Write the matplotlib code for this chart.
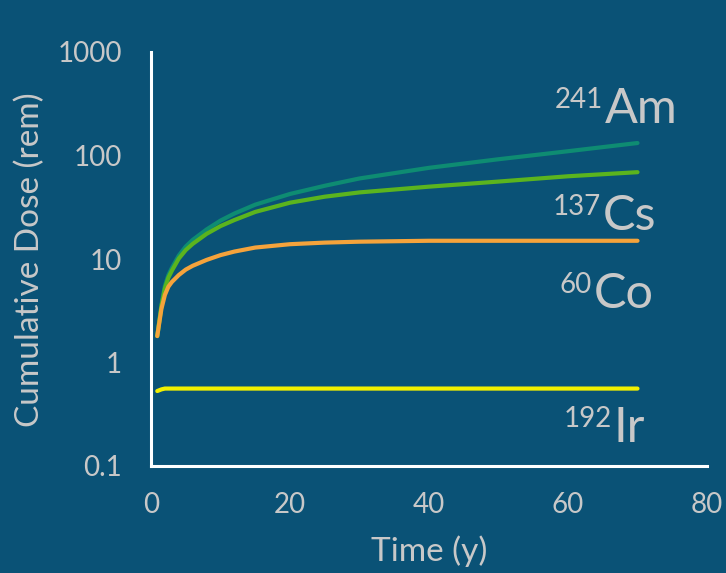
import matplotlib
matplotlib.use("Agg")
import matplotlib.pyplot as plt

# time in years
t = [0.9, 1.5, 2, 2.5, 3, 4, 5, 6, 8, 10, 12, 15, 20, 25, 30, 40, 50, 60, 70]
am241 = [1.8, 3.6, 5.5, 7.0, 8.2, 10.8, 13.2, 15.3, 19.3, 23.5, 27.5, 33.5, 42.5, 51, 60, 76, 92, 110, 132]
cs137 = [1.8, 3.5, 5.2, 6.6, 7.7, 10.1, 12.2, 14.0, 17.5, 20.8, 23.8, 28.5, 35, 40, 44, 50, 56, 63, 69]
co60 = [1.8, 3.3, 4.5, 5.4, 6.0, 7.0, 7.9, 8.6, 9.8, 10.9, 11.8, 12.9, 13.9, 14.4, 14.7, 15, 15, 15, 15]
ir192 = [0.53, 0.55, 0.56, 0.56, 0.56, 0.56, 0.56, 0.56, 0.56, 0.56, 0.56, 0.56, 0.56, 0.56, 0.56,
         0.56, 0.56, 0.56, 0.56]

bg = "#0A5276"
txt = "#C8C8C8"
plt.rcParams['font.family'] = ['Lato', 'DejaVu Sans']

fig = plt.figure(figsize=(7.26, 5.73), dpi=100, facecolor=bg)
ax = fig.add_axes([151/726, 1-466/573, (707-151)/726, (466-52)/573])
ax.set_facecolor(bg)

kw = dict(lw=3, solid_capstyle='round', solid_joinstyle='round')
ax.plot(t, am241, color="#0E8C72", **kw)
ax.plot(t, cs137, color="#5BB41E", **kw)
ax.plot(t, co60, color="#F5A33B", **kw)
ax.plot(t, ir192, color="#F2F000", **kw)

ax.set_yscale('log')
ax.set_ylim(0.1, 1000)
ax.set_xlim(0, 80)
ax.set_xticks([0, 20, 40, 60, 80])
ax.set_yticks([0.1, 1, 10, 100, 1000])
ax.set_yticklabels(["0.1", "1", "10", "100", "1000"])
ax.minorticks_off()
ax.tick_params(length=0, labelsize=20, colors=txt)
ax.tick_params(axis='y', pad=21)
ax.tick_params(axis='x', pad=19)
for s in ['top', 'right']:
    ax.spines[s].set_visible(False)
for s in ['left', 'bottom']:
    ax.spines[s].set_color('white')
    ax.spines[s].set_linewidth(2.2)

fig.text(30/726, 1-260/573, "Cumulative Dose (rem)", rotation=90, ha='center', va='center',
         fontsize=24, color=txt)
fig.text(429/726, 1-551/573, "Time (y)", ha='center', va='center', fontsize=24, color=txt)

# isotope labels: (superscript, symbol, x of symbol, baseline)
labels = [("241", "Am", 605, 123), ("137", "Cs", 603, 230),
          ("60", "Co", 594, 308), ("192", "Ir", 614, 442)]
for sup, sym, xp, yb in labels:
    fig.text(xp/726, 1-yb/573, sym, ha='left', va='baseline', fontsize=35, color=txt)
    fig.text((xp-2)/726, 1-(yb-15)/573, sup, ha='right', va='baseline', fontsize=20, color=txt)

fig.savefig("out.png", dpi=100, facecolor=bg)
